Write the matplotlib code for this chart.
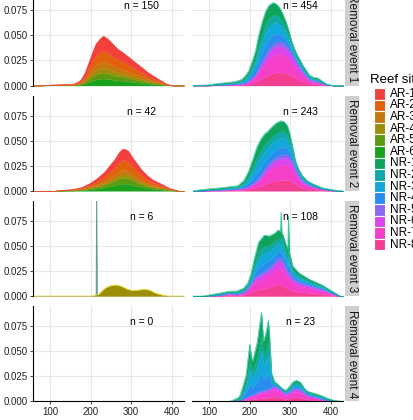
import numpy as np
import matplotlib.pyplot as plt
from matplotlib.patches import Rectangle

plt.rcParams['font.family'] = ['Liberation Sans', 'DejaVu Sans']

# reef sites and their fill colours
ar_sites = ['AR-1', 'AR-2', 'AR-3', 'AR-4', 'AR-5', 'AR-6']
nr_sites = ['NR-1', 'NR-2', 'NR-3', 'NR-4', 'NR-5', 'NR-6', 'NR-7', 'NR-8']
ar_colors = ['#F2413D', '#E2620C', '#C4780E', '#9C8E06', '#5C9A14', '#1AA21E']
nr_colors = ['#0FA45A', '#0FA8A8', '#12A8DC', '#2A8CF0',
             '#8A68F2', '#DC44EC', '#F53FC8', '#F43E92']

events = ['Removal event 1', 'Removal event 2', 'Removal event 3', 'Removal event 4']
n_ar = [150, 42, 6, 0]
n_nr = [454, 243, 108, 23]

# artificial reefs: stacked density height per event
ar1_x = [60, 76, 100, 130, 157, 168, 175, 185, 195, 204, 212, 222, 231, 242, 254,
         266, 277, 293, 308, 324, 339, 354, 370, 387, 402, 430]
ar1_y = [0, 0, 0.001, 0.0015, 0.002, 0.004, 0.006, 0.013, 0.024, 0.034, 0.042, 0.047,
         0.050, 0.047, 0.042, 0.037, 0.034, 0.029, 0.024, 0.019, 0.014, 0.010, 0.006,
         0.002, 0, 0]
ar2_x = [60, 107, 130, 156, 178, 198, 216, 233, 247, 259, 268, 277, 285, 293, 304,
         315, 326, 338, 354, 370, 394, 418, 430]
ar2_y = [0, 0, 0.001, 0.002, 0.004, 0.008, 0.013, 0.019, 0.026, 0.032, 0.038, 0.042,
         0.042, 0.040, 0.033, 0.027, 0.021, 0.016, 0.011, 0.008, 0.003, 0, 0]
ar3_x = [60, 203, 212, 220, 237, 250, 262, 275, 290, 302, 316, 331, 345, 359, 375, 391, 430]
ar3_y = [0, 0, 0.001, 0.002, 0.0084, 0.0105, 0.0112, 0.010, 0.007, 0.0056, 0.006,
         0.0069, 0.006, 0.003, 0.0012, 0, 0]
ar3_spike_x = [213.5, 215, 216.5]
ar3_spike_y = [0, 0.12, 0]

# share of each AR site in the stack, AR-1 (top) to AR-6 (bottom)
ar1_share = [0.30, 0.22, 0.13, 0.09, 0.12, 0.14]
ar2_share = [0.27, 0.23, 0.11, 0.08, 0.14, 0.17]
ar3_share = [0, 0, 0, 1, 0, 0]

# natural reefs: total stack height and the NR-5..NR-8 part underneath
nr1_x = [60, 95, 120, 146, 165, 180, 190, 198, 206, 214, 222, 231, 239, 247, 258, 267,
         275, 283, 290, 297, 303, 310, 318, 333, 348, 358, 368, 380, 389, 405, 430]
nr1_total = [0, 0.0005, 0.002, 0.003, 0.004, 0.006, 0.010, 0.015, 0.024, 0.034, 0.050,
             0.064, 0.074, 0.080, 0.083, 0.081, 0.077, 0.070, 0.063, 0.054, 0.045,
             0.037, 0.030, 0.019, 0.010, 0.008, 0.0075, 0.004, 0.0016, 0, 0]
nr1_low = [0, 0, 0.0005, 0.001, 0.0015, 0.002, 0.003, 0.005, 0.008, 0.012, 0.018,
           0.025, 0.031, 0.037, 0.042, 0.044, 0.044, 0.043, 0.040, 0.037, 0.033,
           0.028, 0.022, 0.013, 0.006, 0.005, 0.004, 0.002, 0.001, 0, 0]
nr2_x = [60, 77, 127, 170, 185, 198, 208, 218, 228, 237, 246, 255, 266, 277, 285, 293,
         298, 303, 308, 312, 320, 330, 342, 354, 379, 412, 430]
nr2_total = [0, 0.001, 0.003, 0.005, 0.010, 0.020, 0.032, 0.044, 0.052, 0.057, 0.060,
             0.064, 0.068, 0.070, 0.069, 0.065, 0.058, 0.049, 0.040, 0.031, 0.022,
             0.015, 0.010, 0.0073, 0.003, 0.0005, 0]
nr2_low = [0, 0, 0.001, 0.002, 0.003, 0.005, 0.008, 0.011, 0.016, 0.022, 0.027, 0.031,
           0.034, 0.036, 0.037, 0.036, 0.034, 0.032, 0.027, 0.023, 0.016, 0.010,
           0.007, 0.005, 0.002, 0, 0]
nr3_x = [60, 84, 126, 151, 168, 185, 195, 203, 211, 222, 236, 248, 262, 270, 276, 277.5,
         279, 282, 290, 294, 295.5, 297, 306, 322, 346, 379, 403, 423, 430]
nr3_total = [0, 0, 0.003, 0.005, 0.005, 0.008, 0.013, 0.022, 0.037, 0.054, 0.061,
             0.060, 0.063, 0.066, 0.065, 0.084, 0.064, 0.061, 0.051, 0.047, 0.080,
             0.045, 0.030, 0.023, 0.017, 0.011, 0.005, 0, 0]
nr3_low = [0, 0, 0.001, 0.003, 0.002, 0.004, 0.008, 0.013, 0.018, 0.022, 0.025, 0.029,
           0.035, 0.039, 0.038, 0.038, 0.038, 0.035, 0.028, 0.025, 0.024, 0.024,
           0.018, 0.014, 0.011, 0.007, 0.003, 0, 0]
nr4_x = [60, 150, 157, 168, 175, 181, 191, 200, 204, 207, 218, 229, 232, 234, 240, 246,
         249, 251, 254, 261, 270, 280, 289, 298, 308, 316, 325, 335, 343, 360, 376,
         392, 409, 430]
nr4_total = [0, 0, 0.001, 0.003, 0.005, 0.012, 0.026, 0.057, 0.045, 0.040, 0.058,
             0.089, 0.072, 0.060, 0.068, 0.081, 0.064, 0.050, 0.028, 0.020, 0.017,
             0.013, 0.011, 0.015, 0.020, 0.021, 0.019, 0.013, 0.010, 0.008, 0.006,
             0.003, 0.001, 0]
nr4_low = [0, 0, 0, 0.0005, 0.001, 0.002, 0.004, 0.006, 0.0065, 0.007, 0.009, 0.011,
           0.0112, 0.0115, 0.012, 0.013, 0.0135, 0.014, 0.015, 0.016, 0.014, 0.011,
           0.008, 0.010, 0.013, 0.0135, 0.012, 0.009, 0.006, 0.005, 0.0026, 0.0012,
           0.0003, 0]

# share of each NR site inside its half of the stack (top to bottom)
nr_up_share = [0.30, 0.20, 0.28, 0.22]    # NR-1..NR-4
nr_low_share = [0.10, 0.18, 0.42, 0.30]   # NR-5..NR-8

ar_panels = [(ar1_x, ar1_y, ar1_share), (ar2_x, ar2_y, ar2_share),
             (ar3_x, ar3_y, ar3_share), None]
nr_panels = [(nr1_x, nr1_total, nr1_low), (nr2_x, nr2_total, nr2_low),
             (nr3_x, nr3_total, nr3_low), (nr4_x, nr4_total, nr4_low)]


def stack(ax, x, height, shares, colors, base):
    # shares/colours are listed top to bottom, drawn bottom up
    for s, c in zip(shares[::-1], colors[::-1]):
        top = base + height * s
        if s > 0:
            ax.fill_between(x, base, top, color=c, lw=0.2)
        base = top
    return base


W, H = 414, 420
fig = plt.figure(figsize=(W / 100, H / 100), dpi=100)


def add_ax(left, top, w, h):
    return fig.add_axes([left / W, 1 - (top + h) / H, w / W, h / H])


for i in range(4):
    top = -9.5 + 105.3 * i
    axl = add_ax(33, top, 151, 95)
    axr = add_ax(192, top, 151, 95)
    for ax in (axl, axr):
        ax.set_xlim(58, 430)
        ax.set_ylim(0, 0.095)
        ax.set_xticks([100, 200, 300, 400])
        ax.set_yticks([0, 0.025, 0.05, 0.075])
        ax.set_yticklabels(['0.000', '0.025', '0.050', '0.075'])
        ax.grid(color='#E8E8E8', lw=0.8)
        ax.set_axisbelow(True)
        ax.spines['top'].set_visible(False)
        ax.spines['right'].set_visible(False)
        ax.spines['left'].set_linewidth(0.8)
        ax.spines['bottom'].set_linewidth(0.8)
        ax.tick_params(length=2.5, width=0.6, labelsize=7, colors='#222222', pad=1.5)
        if i < 3:
            ax.spines['bottom'].set_visible(False)
            ax.tick_params(axis='x', length=0, labelbottom=False)
    axr.spines['left'].set_visible(False)
    axr.tick_params(axis='y', length=0, labelleft=False)

    # artificial reefs
    if ar_panels[i] is not None:
        x, y, share = ar_panels[i]
        x = np.array(x)
        stack(axl, x, np.array(y), share, ar_colors, np.zeros(len(x)))
        if i == 2:
            axl.plot(x, y, color='#E6D81A', lw=0.6)
            axl.fill(ar3_spike_x, ar3_spike_y, color='#5E9E96', lw=0.6)
    axl.text(325, 0.079, f'n = {n_ar[i]}', ha='center', va='center', fontsize=7.5)

    # natural reefs
    x, total, low = nr_panels[i]
    x, total, low = np.array(x), np.array(total), np.array(low)
    base = stack(axr, x, low, nr_low_share, nr_colors[4:], np.zeros(len(x)))
    stack(axr, x, total - low, nr_up_share, nr_colors[:4], base)
    axr.plot(x, total, color='#2CC9B0', lw=0.5)
    axr.text(325, 0.079, f'n = {n_nr[i]}', ha='center', va='center', fontsize=7.5)

    # facet strip on the right
    sax = add_ax(345, top, 14, 95)
    sax.set_facecolor('#CFCFCF')
    sax.set_xticks([])
    sax.set_yticks([])
    for s in sax.spines.values():
        s.set_visible(False)
    sax.text(0.5, 0.5, events[i], rotation=270, ha='center', va='center',
             fontsize=8.5, color='#1A1A1A', transform=sax.transAxes)

# legend
lax = fig.add_axes([0, 0, 1, 1])
lax.set_xlim(0, W)
lax.set_ylim(H, 0)
lax.axis('off')
lax.text(370, 80, 'Reef site', fontsize=9.5, va='center', ha='left')
for k, (site, col) in enumerate(zip(ar_sites + nr_sites, ar_colors + nr_colors)):
    y0 = 88 + 11.6 * k
    lax.add_patch(Rectangle((374, y0), 11, 11.6, facecolor=col, edgecolor='white', lw=0.8))
    lax.text(390, y0 + 5.8, site, fontsize=8.5, va='center', ha='left')

fig.savefig('out.png', dpi=100)
